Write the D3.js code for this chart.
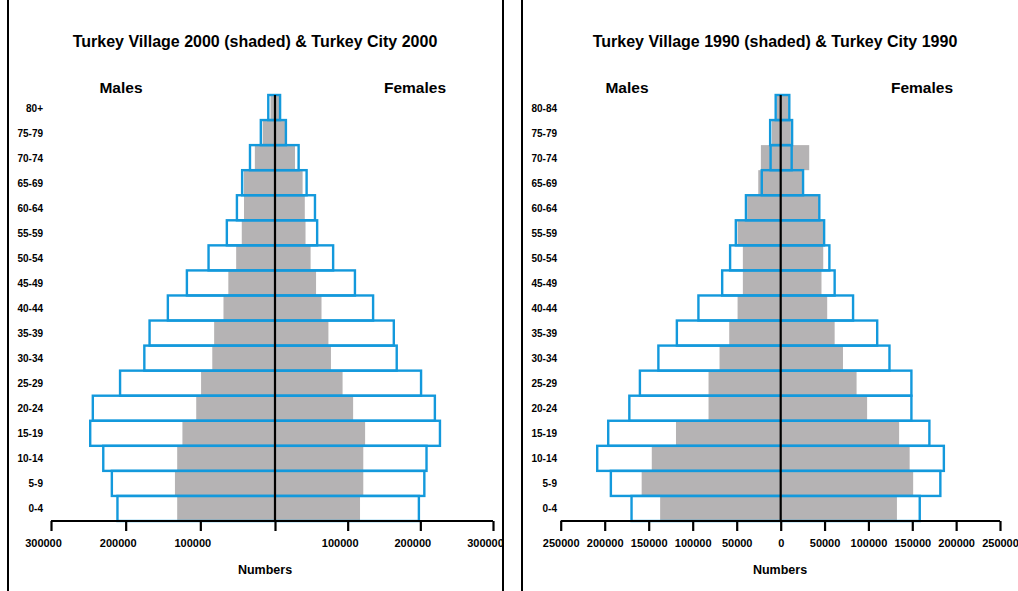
<!DOCTYPE html>
<html>
<head>
<meta charset="utf-8">
<script src="https://cdn.jsdelivr.net/npm/d3@7"></script>
<style>
  body { margin: 0; background: #fff; }
  text { font-family: "Liberation Sans", Arial, sans-serif; font-weight: bold; fill: #000; }
</style>
</head>
<body>
<div id="chart"></div>
<script>
// age groups, top to bottom
const ages2000 = ["80+", "75-79", "70-74", "65-69", "60-64", "55-59", "50-54", "45-49", "40-44",
  "35-39", "30-34", "25-29", "20-24", "15-19", "10-14", "5-9", "0-4"];
const ages1990 = ["80-84", "75-79", "70-74", "65-69", "60-64", "55-59", "50-54", "45-49", "40-44",
  "35-39", "30-34", "25-29", "20-24", "15-19", "10-14", "5-9", "0-4"];

// 2000 (shaded = village, outline = city)
const village2000Male = [6000, 16500, 27000, 41500, 41500, 44500, 52000, 62500, 69000,
  81500, 84000, 99000, 105500, 124000, 131000, 134000, 131000];
const village2000Female = [6000, 16000, 27500, 38000, 41000, 42000, 49000, 56500, 64000,
  73500, 77000, 93000, 107500, 124000, 121500, 121500, 117000];
const city2000Male = [9000, 19000, 33500, 44000, 51000, 64500, 89000, 118000, 143500,
  168000, 175000, 207500, 244000, 247500, 230000, 218500, 211000];
const city2000Female = [7000, 15000, 32500, 43500, 55000, 58000, 80000, 110000, 135000,
  163500, 167500, 201000, 220000, 227000, 208500, 205500, 198000];

// 1990
const village1990Male = [4500, 10000, 22500, 25500, 38000, 49000, 43000, 43000, 49000,
  58500, 69500, 82000, 82000, 119000, 146500, 158000, 137000];
const village1990Female = [8700, 11500, 32500, 25500, 43000, 48500, 48500, 46500, 53000,
  61500, 71000, 86500, 98500, 135000, 147000, 151000, 132500];
const city1990Male = [5700, 12000, 11500, 21500, 39500, 51000, 57500, 66500, 93500,
  118000, 139000, 160000, 172000, 196000, 208500, 193000, 169500];
const city1990Female = [9800, 13000, 12500, 25500, 44000, 49500, 55500, 61500, 82500,
  110000, 124000, 149000, 149000, 169500, 186000, 182000, 158500];

const ticks2000 = [-300000, -200000, -100000, 0, 100000, 200000, 300000];
const ticks1990 = [-250000, -200000, -150000, -100000, -50000, 0, 50000, 100000, 150000, 200000, 250000];

const width = 1018, height = 591;
const svg = d3.select("#chart").append("svg")
  .attr("width", width)
  .attr("height", height);

const panels = [
  {
    title: "Turkey Village 2000 (shaded) & Turkey City 2000",
    ages: ages2000, vm: village2000Male, vf: village2000Female, cm: city2000Male, cf: city2000Female,
    ticks: ticks2000, showZero: false,
    frame: [8, 503], xRange: [51, 275, 493], labelX: 43,
    titleX: 255, malesX: 121, femalesX: 415, numbersX: 265, tickDx: -8
  },
  {
    title: "Turkey Village 1990 (shaded) & Turkey City 1990",
    ages: ages1990, vm: village1990Male, vf: village1990Female, cm: city1990Male, cf: city1990Female,
    ticks: ticks1990, showZero: true,
    frame: [522, 1030], xRange: [560.7, 780.7, 1000], labelX: 557,
    titleX: 775, malesX: 627, femalesX: 922, numbersX: 780, tickDx: 0
  }
];

const plotTop = 95, plotBottom = 521;

panels.forEach(p => {
  const g = svg.append("g");

  // frame lines
  g.selectAll("line.frame")
    .data(p.frame)
    .enter().append("line")
    .attr("x1", d => d).attr("x2", d => d)
    .attr("y1", -2).attr("y2", height + 2)
    .attr("stroke", "#000").attr("stroke-width", 2);

  const x = d3.scaleLinear()
    .domain([-d3.max(p.ticks), 0, d3.max(p.ticks)])
    .range(p.xRange);

  const y = d3.scaleBand()
    .domain(p.ages)
    .range([plotTop, plotBottom]);

  const rows = p.ages.map((a, i) => ({age: a, vm: p.vm[i], vf: p.vf[i], cm: p.cm[i], cf: p.cf[i]}));

  // village (shaded)
  g.selectAll("rect.village")
    .data(rows)
    .enter().append("rect")
    .attr("x", d => x(-d.vm))
    .attr("y", d => y(d.age))
    .attr("width", d => x(d.vf) - x(-d.vm))
    .attr("height", y.bandwidth())
    .attr("fill", "#b5b3b4");

  // city (outline)
  g.selectAll("rect.city")
    .data(rows)
    .enter().append("rect")
    .attr("x", d => x(-d.cm))
    .attr("y", d => y(d.age))
    .attr("width", d => x(d.cf) - x(-d.cm))
    .attr("height", y.bandwidth())
    .attr("fill", "none")
    .attr("stroke", "#1399dc")
    .attr("stroke-width", 2.4);

  // centre line
  g.append("line")
    .attr("x1", x(0)).attr("x2", x(0))
    .attr("y1", plotTop).attr("y2", plotBottom)
    .attr("stroke", "#000").attr("stroke-width", 2.2);

  // age labels
  g.selectAll("text.age")
    .data(p.ages)
    .enter().append("text")
    .attr("x", p.labelX)
    .attr("y", d => y(d) + y.bandwidth() / 2 + 4)
    .attr("text-anchor", "end")
    .style("font-size", "10px")
    .text(d => d);

  // x axis
  const axis = g.append("g")
    .attr("transform", `translate(0,${plotBottom})`)
    .call(d3.axisBottom(x)
      .tickValues(p.ticks)
      .tickSize(10)
      .tickPadding(8)
      .tickFormat(d => (d === 0 && !p.showZero) ? "" : Math.abs(d)));
  axis.select(".domain")
    .attr("d", `M${x.range()[0]},0H${x.range()[2]}`)
    .attr("stroke-width", 2.2);
  axis.selectAll(".tick line").attr("stroke-width", 2.2);
  axis.selectAll(".tick text")
    .attr("dx", p.tickDx)
    .style("font-size", "11px")
    .style("font-family", "'Liberation Sans', Arial, sans-serif")
    .style("font-weight", "bold");

  g.append("text")
    .attr("x", p.numbersX).attr("y", 574)
    .attr("text-anchor", "middle")
    .style("font-size", "12.5px")
    .text("Numbers");

  g.append("text")
    .attr("x", p.titleX).attr("y", 47)
    .attr("text-anchor", "middle")
    .style("font-size", "16px")
    .text(p.title);

  g.append("text")
    .attr("x", p.malesX).attr("y", 93)
    .attr("text-anchor", "middle")
    .style("font-size", "15.5px")
    .text("Males");

  g.append("text")
    .attr("x", p.femalesX).attr("y", 93)
    .attr("text-anchor", "middle")
    .style("font-size", "15.5px")
    .text("Females");
});
</script>
</body>
</html>
